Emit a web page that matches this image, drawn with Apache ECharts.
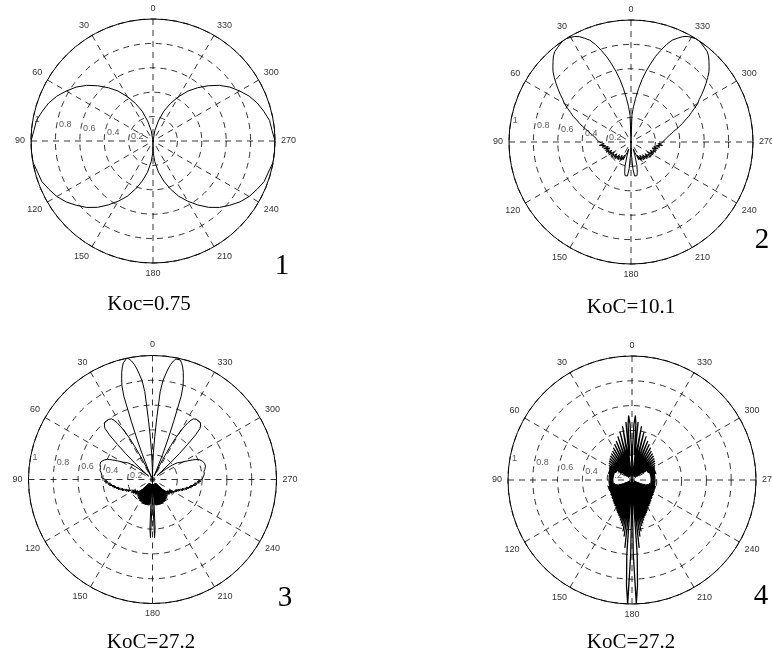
<!DOCTYPE html>
<html><head><meta charset="utf-8">
<script src="https://cdn.jsdelivr.net/npm/echarts@6/dist/echarts.min.js"></script>
<style>html,body{margin:0;padding:0;background:#fff}#c{width:772px;height:657px}</style>
</head><body><div id="c"></div>
<script>
// ---- tick labels / texts ----
const angleTickStep = 30;
const radiusTicks = [0.2, 0.4, 0.6, 0.8, 1];
const radiusTickText = ['0.2', '0.4', '0.6', '0.8', '1'];
const captions = ['Koc=0.75', 'KoC=10.1', 'KoC=27.2', 'KoC=27.2'];
const panelNumbers = ['1', '2', '3', '4'];

// ---- plot 1 : two circular lobes, sampled every 5 degrees ----
const p1Step = 5;
const p1LeftStart = 5;     // 5..185
const p1LeftR = [0, 0.087, 0.17, 0.26, 0.34, 0.42, 0.5, 0.57, 0.64, 0.71,
  0.77, 0.82, 0.87, 0.91, 0.94, 0.97, 0.98, 1.0, 1.0, 1.0,
  0.98, 0.97, 0.94, 0.91, 0.87, 0.82, 0.77, 0.71, 0.64, 0.57,
  0.5, 0.42, 0.34, 0.26, 0.17, 0.087, 0];
const p1RightStart = 175;  // 175..355
const p1RightR = [0, 0.087, 0.17, 0.26, 0.34, 0.42, 0.5, 0.57, 0.64, 0.71,
  0.77, 0.82, 0.87, 0.91, 0.94, 0.97, 0.98, 1.0, 1.0, 1.0,
  0.98, 0.97, 0.94, 0.91, 0.87, 0.82, 0.77, 0.71, 0.64, 0.57,
  0.5, 0.42, 0.34, 0.26, 0.17, 0.087, 0];

// ---- plot 2 : sampled every 2 degrees ----
const p2Step = 2;
const p2RLeft = [ // 0..180
  0, 0.22, 0.29, 0.36, 0.44, 0.52, 0.59, 0.66, 0.73, 0.79,
  0.85, 0.9, 0.93, 0.96, 0.98, 0.99, 1.0, 1.0, 0.99, 0.98,
  0.97, 0.95, 0.92, 0.89, 0.86, 0.82, 0.78, 0.74, 0.7, 0.66,
  0.63, 0.59, 0.55, 0.52, 0.48, 0.45, 0.42, 0.39, 0.36, 0.34,
  0.32, 0.3, 0.29, 0.28, 0.27, 0.26, 0.25, 0.22, 0.26, 0.21,
  0.24, 0.19, 0.23, 0.18, 0.22, 0.19, 0.22, 0.17, 0.21, 0.18,
  0.21, 0.16, 0.2, 0.17, 0.2, 0.15, 0.19, 0.16, 0.19, 0.14,
  0.18, 0.15, 0.18, 0.13, 0.17, 0.14, 0.17, 0.12, 0.16, 0.12,
  0.09, 0.06, 0.12, 0.2, 0.25, 0.28, 0.29, 0.28, 0.22, 0.1,
  0];
const p2RRight = [ // 182..358
  0.1, 0.22, 0.28, 0.29, 0.28, 0.25, 0.2, 0.12, 0.06, 0.09,
  0.12, 0.16, 0.12, 0.17, 0.14, 0.17, 0.13, 0.18, 0.15, 0.18,
  0.14, 0.19, 0.16, 0.19, 0.15, 0.2, 0.17, 0.2, 0.16, 0.21,
  0.18, 0.21, 0.17, 0.22, 0.19, 0.22, 0.18, 0.23, 0.19, 0.24,
  0.21, 0.26, 0.22, 0.25, 0.26, 0.27, 0.28, 0.29, 0.3, 0.32,
  0.34, 0.36, 0.39, 0.42, 0.45, 0.48, 0.52, 0.55, 0.59, 0.63,
  0.66, 0.7, 0.74, 0.78, 0.82, 0.86, 0.89, 0.92, 0.95, 0.97,
  0.98, 0.99, 1.0, 1.0, 0.99, 0.98, 0.96, 0.93, 0.9, 0.85,
  0.79, 0.73, 0.66, 0.59, 0.52, 0.44, 0.36, 0.29, 0.22];

// ---- plot 3 : sampled every degree ----
const p3Step = 1;
const p3RLeft = [ // 0..180
  0, 0.1, 0.22, 0.35, 0.5, 0.71, 0.8, 0.85, 0.9, 0.94,
  0.97, 0.99, 1.0, 0.99, 0.97, 0.94, 0.9, 0.85, 0.8, 0.71,
  0.5, 0.35, 0.22, 0.1, 0.02, 0.03, 0.08, 0.18, 0.28, 0.38,
  0.44, 0.5, 0.54, 0.57, 0.59, 0.6, 0.6, 0.6, 0.6, 0.6,
  0.6, 0.59, 0.58, 0.56, 0.5, 0.4, 0.3, 0.2, 0.1, 0.04,
  0.05, 0.11, 0.14, 0.17, 0.2, 0.22, 0.24, 0.25, 0.26, 0.27,
  0.28, 0.3, 0.32, 0.34, 0.36, 0.38, 0.4, 0.41, 0.42, 0.43,
  0.43, 0.44, 0.44, 0.44, 0.44, 0.44, 0.44, 0.43, 0.43, 0.43,
  0.43, 0.42, 0.42, 0.42, 0.42, 0.41, 0.41, 0.41, 0.41, 0.4,
  0.4, 0.37, 0.39, 0.36, 0.38, 0.34, 0.36, 0.33, 0.35, 0.31,
  0.33, 0.3, 0.32, 0.28, 0.3, 0.27, 0.29, 0.25, 0.27, 0.24,
  0.26, 0.22, 0.24, 0.21, 0.23, 0.2, 0.22, 0.19, 0.21, 0.18,
  0.2, 0.17, 0.2, 0.16, 0.19, 0.16, 0.19, 0.15, 0.18, 0.15,
  0.18, 0.14, 0.18, 0.12, 0.17, 0.08, 0.17, 0.05, 0.18, 0.04,
  0.18, 0.04, 0.19, 0.04, 0.19, 0.04, 0.19, 0.04, 0.2, 0.04,
  0.2, 0.04, 0.2, 0.04, 0.2, 0.04, 0.21, 0.04, 0.21, 0.04,
  0.21, 0.04, 0.21, 0.04, 0.21, 0.04, 0.21, 0.04, 0.21, 0.04,
  0.21, 0.04, 0.21, 0.04, 0.2, 0.05, 0.15, 0.4, 0.47, 0.2,
  0];
const p3RRight = [ // 181..359
  0.2, 0.47, 0.4, 0.15, 0.05, 0.2, 0.04, 0.21, 0.04, 0.21,
  0.04, 0.21, 0.04, 0.21, 0.04, 0.21, 0.04, 0.21, 0.04, 0.21,
  0.04, 0.21, 0.04, 0.21, 0.04, 0.2, 0.04, 0.2, 0.04, 0.2,
  0.04, 0.2, 0.04, 0.19, 0.04, 0.19, 0.04, 0.19, 0.04, 0.18,
  0.04, 0.18, 0.05, 0.17, 0.08, 0.17, 0.12, 0.18, 0.14, 0.18,
  0.15, 0.18, 0.15, 0.19, 0.16, 0.19, 0.16, 0.2, 0.17, 0.2,
  0.18, 0.21, 0.19, 0.22, 0.2, 0.23, 0.21, 0.24, 0.22, 0.26,
  0.24, 0.27, 0.25, 0.29, 0.27, 0.3, 0.28, 0.32, 0.3, 0.33,
  0.31, 0.35, 0.33, 0.36, 0.34, 0.38, 0.36, 0.39, 0.37, 0.4,
  0.4, 0.41, 0.41, 0.41, 0.41, 0.42, 0.42, 0.42, 0.42, 0.43,
  0.43, 0.43, 0.43, 0.44, 0.44, 0.44, 0.44, 0.44, 0.44, 0.43,
  0.43, 0.42, 0.41, 0.4, 0.38, 0.36, 0.34, 0.32, 0.3, 0.28,
  0.27, 0.26, 0.25, 0.24, 0.22, 0.2, 0.17, 0.14, 0.11, 0.05,
  0.04, 0.1, 0.2, 0.3, 0.4, 0.5, 0.56, 0.58, 0.59, 0.6,
  0.6, 0.6, 0.6, 0.6, 0.6, 0.59, 0.57, 0.54, 0.5, 0.44,
  0.38, 0.28, 0.18, 0.08, 0.03, 0.02, 0.1, 0.22, 0.35, 0.5,
  0.71, 0.8, 0.85, 0.9, 0.94, 0.97, 0.99, 1.0, 0.99, 0.97,
  0.94, 0.9, 0.85, 0.8, 0.71, 0.5, 0.35, 0.22, 0.1];

// ---- plot 4 : sampled every degree ----
const p4Step = 1;
const p4RLeft = [ // 0..180
  0, 0.25, 0.45, 0.52, 0.45, 0.2, 0.47, 0.22, 0.03, 0.22,
  0.44, 0.2, 0.03, 0.2, 0.4, 0.19, 0.03, 0.18, 0.37, 0.17,
  0.03, 0.17, 0.34, 0.16, 0.03, 0.16, 0.32, 0.15, 0.03, 0.15,
  0.3, 0.14, 0.03, 0.14, 0.28, 0.14, 0.03, 0.13, 0.27, 0.13,
  0.03, 0.13, 0.26, 0.12, 0.03, 0.12, 0.25, 0.12, 0.03, 0.12,
  0.24, 0.12, 0.05, 0.13, 0.23, 0.14, 0.1, 0.15, 0.22, 0.14,
  0.21, 0.14, 0.21, 0.14, 0.2, 0.14, 0.2, 0.15, 0.2, 0.15,
  0.2, 0.15, 0.2, 0.15, 0.2, 0.15, 0.19, 0.15, 0.19, 0.15,
  0.19, 0.15, 0.19, 0.15, 0.19, 0.15, 0.19, 0.15, 0.19, 0.15,
  0.19, 0.15, 0.19, 0.15, 0.19, 0.15, 0.19, 0.15, 0.19, 0.15,
  0.19, 0.15, 0.19, 0.14, 0.19, 0.14, 0.2, 0.13, 0.2, 0.12,
  0.2, 0.1, 0.2, 0.08, 0.2, 0.05, 0.2, 0.03, 0.2, 0.02,
  0.2, 0.02, 0.2, 0.02, 0.21, 0.02, 0.21, 0.02, 0.21, 0.02,
  0.21, 0.02, 0.22, 0.02, 0.22, 0.02, 0.22, 0.02, 0.23, 0.02,
  0.23, 0.02, 0.24, 0.02, 0.24, 0.02, 0.25, 0.02, 0.25, 0.02,
  0.26, 0.02, 0.27, 0.02, 0.28, 0.02, 0.29, 0.02, 0.3, 0.02,
  0.31, 0.02, 0.32, 0.02, 0.34, 0.02, 0.36, 0.02, 0.38, 0.02,
  0.42, 0.02, 0.46, 0.02, 0.55, 0.05, 0.6, 0.85, 1.0, 0.6,
  0];
const p4RRight = [ // 181..359
  0.6, 1.0, 0.85, 0.6, 0.05, 0.55, 0.02, 0.46, 0.02, 0.42,
  0.02, 0.38, 0.02, 0.36, 0.02, 0.34, 0.02, 0.32, 0.02, 0.31,
  0.02, 0.3, 0.02, 0.29, 0.02, 0.28, 0.02, 0.27, 0.02, 0.26,
  0.02, 0.25, 0.02, 0.25, 0.02, 0.24, 0.02, 0.24, 0.02, 0.23,
  0.02, 0.23, 0.02, 0.22, 0.02, 0.22, 0.02, 0.22, 0.02, 0.21,
  0.02, 0.21, 0.02, 0.21, 0.02, 0.21, 0.02, 0.2, 0.02, 0.2,
  0.02, 0.2, 0.03, 0.2, 0.05, 0.2, 0.08, 0.2, 0.1, 0.2,
  0.12, 0.2, 0.13, 0.2, 0.14, 0.19, 0.14, 0.19, 0.15, 0.19,
  0.15, 0.19, 0.15, 0.19, 0.15, 0.19, 0.15, 0.19, 0.15, 0.19,
  0.15, 0.19, 0.15, 0.19, 0.15, 0.19, 0.15, 0.19, 0.15, 0.19,
  0.15, 0.19, 0.15, 0.19, 0.15, 0.2, 0.15, 0.2, 0.15, 0.2,
  0.15, 0.2, 0.15, 0.2, 0.14, 0.2, 0.14, 0.21, 0.14, 0.21,
  0.14, 0.22, 0.15, 0.1, 0.14, 0.23, 0.13, 0.05, 0.12, 0.24,
  0.12, 0.03, 0.12, 0.25, 0.12, 0.03, 0.12, 0.26, 0.13, 0.03,
  0.13, 0.27, 0.13, 0.03, 0.14, 0.28, 0.14, 0.03, 0.14, 0.3,
  0.15, 0.03, 0.15, 0.32, 0.16, 0.03, 0.16, 0.34, 0.17, 0.03,
  0.17, 0.37, 0.18, 0.03, 0.19, 0.4, 0.2, 0.03, 0.2, 0.44,
  0.22, 0.03, 0.22, 0.47, 0.2, 0.45, 0.52, 0.45, 0.25];

// ---- layout ----
const panels = [
  { center: [153, 141], radius: 122, caption: [149, 304], num: [282, 266] },
  { center: [631, 142], radius: 122, caption: [631, 307], num: [762, 240] },
  { center: [152.5, 479.5], radius: 124, caption: [151, 642], num: [285, 598] },
  { center: [632, 480], radius: 124, caption: [631, 642], num: [761, 596] }
];

function sampled(rLeft, leftStart, rRight, rightStart, step, close) {
  const pts = [];
  rLeft.forEach((r, i) => pts.push([r, leftStart + i * step]));
  if (rRight) rRight.forEach((r, i) => pts.push([r, rightStart + i * step]));
  if (close) pts.push([rLeft[0], 360]);
  return pts;
}

const dash = [6, 5];
const polar = [], angleAxis = [], radiusAxis = [], series = [], graphic = [];
panels.forEach((p, i) => {
  polar.push({ center: p.center, radius: p.radius });
  angleAxis.push({
    polarIndex: i, type: 'value', min: 0, max: 360, interval: angleTickStep,
    startAngle: 90, clockwise: false,
    axisLine: { show: true, lineStyle: { color: '#000', width: 1 } },
    axisTick: { show: false },
    axisLabel: { margin: 6, fontSize: 9, color: '#333', fontFamily: 'Liberation Sans, Arial, sans-serif',
      formatter: v => (v >= 360 ? '' : String(v)) },
    splitLine: { show: true, lineStyle: { color: '#000', width: 0.8, type: dash } }
  });
  radiusAxis.push({
    polarIndex: i, type: 'value', min: 0, max: 1, interval: 0.2,
    axisLine: { show: false }, axisTick: { show: false }, axisLabel: { show: false },
    splitLine: { show: true, lineStyle: { color: '#000', width: 0.8, type: dash } }
  });
  series.push({
    type: 'scatter', coordinateSystem: 'polar', polarIndex: i, z: 1, silent: true,
    symbolSize: 0, data: radiusTicks.map(r => [r, 80]),
    label: { show: true, position: 'right', distance: 2, fontSize: 9, color: '#333',
      fontFamily: 'Liberation Sans, Arial, sans-serif',
      formatter: pr => radiusTickText[pr.dataIndex] }
  });
  graphic.push({ type: 'text', x: p.caption[0], y: p.caption[1], silent: true,
    style: { text: captions[i], font: '21px "Liberation Serif", "Times New Roman", serif', fill: '#000',
      align: 'center', verticalAlign: 'middle' } });
  graphic.push({ type: 'text', x: p.num[0], y: p.num[1], silent: true,
    style: { text: panelNumbers[i], font: '29px "Liberation Serif", "Times New Roman", serif', fill: '#000',
      align: 'center', verticalAlign: 'middle' } });
});

const lineBase = { type: 'line', coordinateSystem: 'polar', symbol: 'none', z: 3, silent: true,
  lineStyle: { color: '#000', width: 1 } };
series.push(Object.assign({}, lineBase, { polarIndex: 0, data: sampled(p1LeftR, p1LeftStart, null, 0, p1Step, false) }));
series.push(Object.assign({}, lineBase, { polarIndex: 0, data: sampled(p1RightR, p1RightStart, null, 0, p1Step, false) }));
series.push(Object.assign({}, lineBase, { polarIndex: 1, data: sampled(p2RLeft, 0, p2RRight, 182, p2Step, true) }));
series.push(Object.assign({}, lineBase, { polarIndex: 2, data: sampled(p3RLeft, 0, p3RRight, 181, p3Step, true) }));
series.push(Object.assign({}, lineBase, { polarIndex: 3, lineStyle: { color: '#000', width: 1.3 },
  data: sampled(p4RLeft, 0, p4RRight, 181, p4Step, true) }));

const chart = echarts.init(document.getElementById('c'), null, { renderer: 'canvas' });
chart.setOption({ animation: false, backgroundColor: '#fff', polar, angleAxis, radiusAxis, series, graphic });
</script>
</body></html>
